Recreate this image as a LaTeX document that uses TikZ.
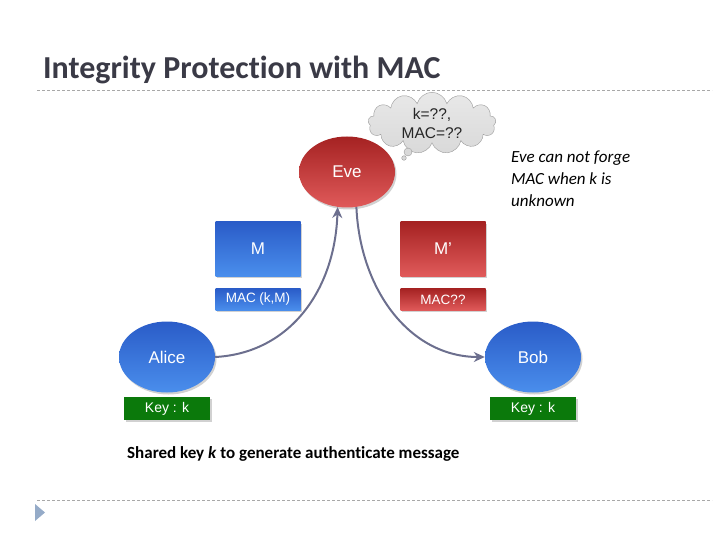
\documentclass[tikz,border=0pt]{standalone}
\usepackage{fontspec}
\setmainfont{Carlito}[Ligatures=NoCommon]
\newfontfamily\arialfont{Liberation Sans}
\usetikzlibrary{positioning,arrows.meta,shapes.geometric,shapes.symbols,shadows}
\definecolor{titlegrey}{HTML}{3A3A46}
\definecolor{rulegrey}{HTML}{A8A8A8}
\definecolor{blueTop}{HTML}{2A5CC8}
\definecolor{blueBot}{HTML}{4A8EEC}
\definecolor{redTop}{HTML}{A52222}
\definecolor{redBot}{HTML}{E05A5A}
\definecolor{keygreen}{HTML}{0B790B}
\definecolor{cloudfill}{HTML}{D9D9D9}
\definecolor{cloudline}{HTML}{9A9A9A}
\definecolor{flowgrey}{HTML}{6C6F8E}
\definecolor{bullet}{HTML}{95ABC8}

\begin{document}
\begin{tikzpicture}[x=1pt, y=-1pt,
  shade/.style={drop shadow={shadow xshift=1.5pt, shadow yshift=-2pt, opacity=0.3, fill=black!60}},
  party/.style={ellipse, shade, minimum width=96pt, minimum height=71pt, text=white, font=\arialfont\fontsize{17}{18}\selectfont},
  good/.style={top color=blueTop, bottom color=blueBot},
  bad/.style={top color=redTop, bottom color=redBot},
  msg/.style={rectangle, shade, minimum width=85pt, minimum height=54pt, text=white, font=\arialfont\fontsize{17}{18}\selectfont},
  tag/.style={rectangle, shade, minimum width=85pt, minimum height=22pt, inner sep=0pt, text=white, font=\arialfont\fontsize{13.5}{15}\selectfont},
  keybox/.style={rectangle, shade, fill=keygreen, minimum width=86pt, minimum height=23pt, inner sep=0pt, text=white, font=\arialfont\fontsize{14}{16}\selectfont},
  flow/.style={draw=flowgrey, line width=2pt, -{Stealth[length=11pt, width=10pt]}},
  rule/.style={draw=rulegrey, line width=1pt, dash pattern=on 3pt off 2pt}]
  \useasboundingbox (0,0) rectangle (720,540);

  % title and rules
  \node[anchor=base west, inner sep=0pt, text=titlegrey, font=\bfseries\fontsize{32}{36}\selectfont] (title) at (43,79) {Integrity Protection with MAC};
  \draw[rule] (37,91) -- (712,91);
  \draw[rule] (37,500) -- (712,500);
  \fill[bullet] (35,504) -- (45,512.5) -- (35,521) -- cycle;

  % parties
  \node[party, bad] (eve) at (347,172) {Eve};
  \node[party, good] (alice) at (167,357) {Alice};
  \node[party, good] (bob) at (533,357) {Bob};
  \node[keybox, below=4pt of alice] (alicekey) {Key : k};
  \node[keybox, below=4pt of bob] (bobkey) {Key : k};

  % messages
  \node[msg, good] (m) at (258,249) {M};
  \node[tag, good, below=12pt of m] (mac) {MAC (k,M)};
  \node[msg, bad] (mfake) at (443,249) {M’};
  \node[tag, bad, below=12pt of mfake] (macfake) {MAC??};

  % Eve thinking
  \node[cloud, cloud puffs=13, aspect=2.5, minimum width=128pt, minimum height=54pt, inner sep=0pt,
        top color=cloudfill!60, bottom color=cloudfill, draw=cloudline, align=center,
        font=\arialfont\fontsize{15.5}{19}\selectfont, text=black!85] (think) at (432,123) {k=??,\\MAC=??};
  \draw[cloudline, fill=cloudfill] (408,152) circle (4);
  \draw[cloudline, fill=cloudfill] (404,158) circle (2.3);

  % transfer through Eve
  \draw[flow] (alice.east) .. controls (290,353) and (335,290) .. (eve.255);
  \draw[flow] (eve.285) .. controls (360,290) and (410,357) .. (bob.west);

  % texts
  \node[anchor=north west, align=left, inner sep=0pt, font=\itshape\fontsize{17}{22}\selectfont] (note) at (511,151) {Eve can not forge\\MAC when k is\\unknown};
  \node[anchor=base west, inner sep=0pt, font=\bfseries\fontsize{17}{18}\selectfont] (caption) at (127,458) {Shared key \textit{k} to generate authenticate message};
\end{tikzpicture}
\end{document}
